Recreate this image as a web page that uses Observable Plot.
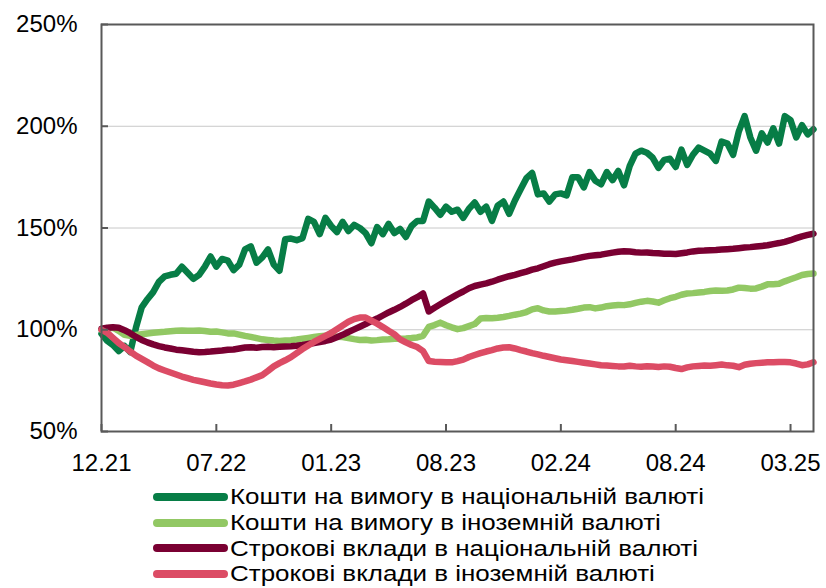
<!DOCTYPE html>
<html><head><meta charset="utf-8">
<script src="https://cdn.jsdelivr.net/npm/d3@7"></script>
<script src="https://cdn.jsdelivr.net/npm/@observablehq/plot@0.6"></script>
<style>
body{margin:0;background:#fff;font-family:Arial,"Liberation Sans",sans-serif;}
#chart svg{display:block}
.legend{margin-left:153px;margin-top:-2px}
.row{display:flex;align-items:center;height:25.8px;color:#000;white-space:nowrap}
.lt{display:block;height:25.8px;line-height:25.8px;font-size:22px;transform:scaleX(1.18);transform-origin:0 50%}
.sw{width:75px;height:8px;border-radius:4px;margin-right:2px;flex:none}
</style></head><body><div id="chart"></div><div class="legend" id="legend"></div>
<script>
// x tick positions (observation index) and their labels
const xTickIdx = [0, 20, 40, 60, 80, 100, 120];
const xTickLabels = ["12.21", "07.22", "01.23", "08.23", "02.24", "08.24", "03.25"];
const yTicks = [50, 100, 150, 200, 250];
const gridValues = [100, 150, 200];

// Кошти на вимогу в національній валюті
const demandUAH = [98,94.5,92.5,89.5,92,89,101,111,115,118.5,
123.5,126.2,127,127.5,131,128,125,127,131,136,
131,134.8,134,129.3,132,139.5,141,133,135.6,139.5,
132,129,144.5,144.8,144,145,154.5,153,147,155,
151,148,153,148.5,151.5,150,147.5,142.5,150.5,147,
152,147.5,149.5,145.6,151,153.5,153.5,163,160,156.5,
160.5,158,159,155,159.5,162.5,158,160.5,153.5,161,
163,157,163.5,169,174.5,177,166.5,167,163,166.5,
167,166,175,175,170,177.5,173.2,171.5,177.5,173.5,
178,171,180.5,186.5,188,187,184.5,179.5,183.5,184,
180,188.5,181,186,189.5,188,186.5,183,192.5,191.5,
186,197.5,205,194.5,188,196.5,192,199,191.5,205,
203,194.5,200.5,196,198.5];

// Кошти на вимогу в іноземній валюті
const demandFX = [100,100.8,101,99.5,97.5,97,97.4,97.8,98.2,98.5,
98.8,99,99.3,99.5,99.6,99.5,99.5,99.6,99.4,99,
99.1,98.7,98.2,98.2,97.6,97,96.5,95.9,95.3,95,
94.7,94.5,94.7,94.9,95.2,95.6,96,96.4,96.8,97.1,
96.9,96.6,96.4,95.9,95.4,95,95.1,94.7,94.9,95.2,
95.3,95.6,95.6,95.7,95.9,96.2,97,101.4,102.3,103.5,
102.2,101.2,100.3,100.8,101.8,102.8,105.5,105.8,105.6,105.9,
106.3,106.8,107.4,107.9,108.7,110,110.6,109.5,109,109,
109.2,109.4,109.8,110.3,110.9,111.1,110.5,110.9,111.6,111.9,
112.2,112.1,112.5,113.2,113.8,114.2,113.9,113.3,114.5,115.5,
116.2,117.2,117.8,118,118.3,118.6,119,119.3,119.2,119.3,
119.8,120.7,120.5,120.2,120.3,121.2,122.3,122.4,122.6,123.8,
124.8,125.8,126.9,127.4,127.6];

// Строкові вклади в національній валюті
const termUAH = [100.5,101,101.2,101,99.8,98.3,96.5,95,93.8,92.8,
92,91.3,90.8,90.2,89.9,89.6,89.2,89,89.1,89.3,
89.6,89.8,90.2,90.3,90.8,91.3,91.4,91.2,91.5,91.6,
91.4,91.6,91.8,91.9,92.1,92.5,93,93.5,94,94.5,
95.2,96.3,97.5,98.9,100.2,101.5,102.8,104.2,105.5,107,
108.5,109.8,111.2,112.8,114.5,116,117.8,109,110.8,112.5,
114.2,115.8,117.4,118.8,120.4,121.5,122.2,122.8,123.6,124.6,
125.5,126.3,127,127.8,128.6,129.5,130.2,131.2,132.2,133,
133.6,134.1,134.6,135.2,135.8,136.3,136.6,136.9,137.4,137.9,
138.3,138.6,138.4,138.1,137.9,138,137.7,137.6,137.4,137.3,
137.2,137.6,138,138.5,138.8,138.9,139.1,139.2,139.4,139.6,
139.8,140.1,140.4,140.6,140.9,141.2,141.5,142.1,142.6,143.2,
144,145,145.9,146.6,147.2];

// Строкові вклади в іноземній валюті
const termFX = [100,98.5,96,93.5,91.5,89.3,87.3,85.7,84.1,82.4,
81,80,79,78,77,76.2,75.4,74.8,74.2,73.6,
73.1,72.7,72.6,73,73.8,74.6,75.5,76.6,77.7,79.8,
82,83.6,85,86.5,88.5,90.5,92.3,94,95.5,97,
98.4,100.3,102.1,103.9,105.2,106,106,104.5,103,101.3,
99.5,97.8,95.3,93.8,92.5,91.5,89.5,84.6,84.3,84.2,
84,84,84.6,85.3,86.6,87.6,88.5,89.3,90,90.8,
91.3,91.4,90.8,90,89.3,88.5,87.9,87.2,86.6,86,
85.4,85,84.6,84.2,83.8,83.4,83,82.6,82.4,82.2,
82,81.9,82.3,82,81.8,82.1,81.9,81.7,82,81.8,
81.2,80.7,81.5,82,82.2,82.4,82.3,82.6,82.9,82.5,
82.3,81.6,82.8,83.3,83.6,83.8,84,84,84.2,84.1,
84,83.4,82.6,83,84];

const seriesNames = ["Кошти на вимогу в національній валюті", "Кошти на вимогу в іноземній валюті", "Строкові вклади в національній валюті", "Строкові вклади в іноземній валюті"];
const seriesColors = ["#077D46", "#92C864", "#7A0032", "#DC4C65"];
const seriesValues = [demandUAH, demandFX, termUAH, termFX];

const chart = Plot.plot({
  width: 826, height: 486,
  marginLeft: 101, marginRight: 13, marginTop: 24, marginBottom: 55,
  style: {fontFamily: "Arial, 'Liberation Sans', sans-serif", fontSize: "24px", color: "#000", background: "#fff", overflow: "visible"},
  x: {domain: [0, 124]},
  y: {domain: [50, 250]},
  marks: [
    Plot.ruleY(gridValues, {stroke: "#c8c8c8", strokeWidth: 1}),
    ...seriesValues.map((vals, k) => Plot.line(vals, {x: (d, i) => i, y: d => d, stroke: seriesColors[k], strokeWidth: 6.5, strokeLinejoin: "round", strokeLinecap: "round"})),
    Plot.frame({stroke: "#595959", strokeWidth: 2}),
    Plot.axisY({ticks: yTicks, tickSize: -7, tickPadding: 31, tickFormat: d => d + "%", label: null, stroke: "#595959", strokeWidth: 2, fontSize: 24}),
    Plot.axisX({ticks: xTickIdx, tickSize: -7, tickPadding: 29, tickFormat: d => xTickLabels[xTickIdx.indexOf(d)], label: null, stroke: "#595959", strokeWidth: 2, fontSize: 24})
  ]
});
document.getElementById("chart").append(chart);

const legend = document.getElementById("legend");
seriesNames.forEach((n, k) => {
  const row = document.createElement("div");
  row.className = "row";
  const sw = document.createElement("span");
  sw.className = "sw";
  sw.style.background = seriesColors[k];
  const t = document.createElement("div");
  t.className = "lt";
  t.textContent = n;
  row.append(sw, t);
  legend.append(row);
});
</script></body></html>
